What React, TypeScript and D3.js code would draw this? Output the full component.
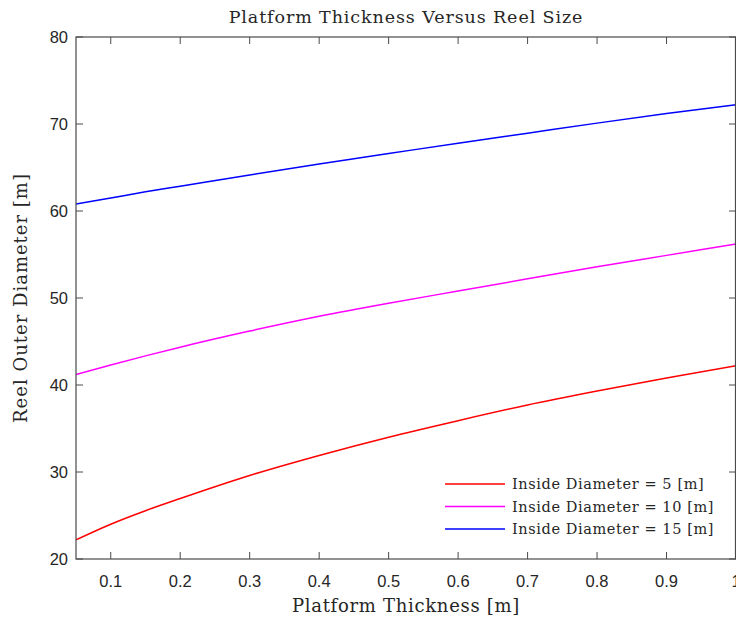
import React from "react";
import * as d3 from "d3";

const thickness = [0.05, 0.1, 0.15, 0.2, 0.3, 0.4, 0.5, 0.6, 0.7, 0.8, 0.9, 1.0];
const outer5 = [22.2, 24.0, 25.55, 26.95, 29.6, 31.9, 34.0, 35.9, 37.7, 39.3, 40.8, 42.2];
const outer10 = [41.2, 42.3, 43.35, 44.35, 46.2, 47.9, 49.4, 50.8, 52.2, 53.6, 54.9, 56.2];
const outer15 = [60.8, 61.5, 62.2, 62.85, 64.15, 65.4, 66.6, 67.8, 68.95, 70.1, 71.2, 72.2];
const seriesLabels = ["Inside Diameter = 5 [m]", "Inside Diameter = 10 [m]", "Inside Diameter = 15 [m]"];
const seriesColors = ["#ff0000", "#ff00ff", "#0000ff"];
const xTicks = [0.1, 0.2, 0.3, 0.4, 0.5, 0.6, 0.7, 0.8, 0.9, 1];
const yTicks = [20, 30, 40, 50, 60, 70, 80];

const W = 736, H = 622;
const L = 76, R = 736, T = 37, B = 559;

export default function App() {
  const x = d3.scaleLinear().domain([0.05, 1]).range([L, R]);
  const y = d3.scaleLinear().domain([20, 80]).range([B, T]);
  const series = [outer5, outer10, outer15];
  const line = d3
    .line<number>()
    .x((_, i) => x(thickness[i]))
    .y((d) => y(d))
    .curve(d3.curveMonotoneX);
  const axisColor = "#4a4a4a";
  const tickFont = "Liberation Sans, Arial, sans-serif";
  const serif = "DejaVu Serif, serif";
  const tl = 7;
  return (
    <svg width={W} height={H} style={{ position: "absolute", left: 0, top: 0, background: "#fff" }}>
      <rect x={0} y={0} width={W} height={H} fill="#fff" />
      <defs>
        <clipPath id="plot">
          <rect x={L} y={T} width={R - L} height={B - T} />
        </clipPath>
      </defs>
      {series.map((s, i) => (
        <path key={i} d={line(s) || ""} fill="none" stroke={seriesColors[i]} strokeWidth={1.5} clipPath="url(#plot)" />
      ))}
      <rect x={L} y={T} width={R - L - 0.5} height={B - T} fill="none" stroke={axisColor} strokeWidth={1.2} />
      {xTicks.map((t) => (
        <g key={"x" + t}>
          <line x1={x(t)} x2={x(t)} y1={B} y2={B - tl} stroke={axisColor} strokeWidth={1} />
          <line x1={x(t)} x2={x(t)} y1={T} y2={T + tl} stroke={axisColor} strokeWidth={1} />
          <text x={x(t)} y={587} textAnchor="middle" fontFamily={tickFont} fontSize={16.5} fill="#262626">
            {t}
          </text>
        </g>
      ))}
      {yTicks.map((t) => (
        <g key={"y" + t}>
          <line x1={L} x2={L + tl} y1={y(t)} y2={y(t)} stroke={axisColor} strokeWidth={1} />
          <line x1={R} x2={R - tl} y1={y(t)} y2={y(t)} stroke={axisColor} strokeWidth={1} />
          <text x={68} y={y(t) + 6} textAnchor="end" fontFamily={tickFont} fontSize={16.5} fill="#262626">
            {t}
          </text>
        </g>
      ))}
      <text x={(L + R) / 2} y={23} textAnchor="middle" fontFamily={serif} fontSize={17.5} letterSpacing={0.9} fill="#262626">
        Platform Thickness Versus Reel Size
      </text>
      <text x={(L + R) / 2} y={612} textAnchor="middle" fontFamily={serif} fontSize={18} letterSpacing={0.7} fill="#262626">
        Platform Thickness [m]
      </text>
      <text
        transform={`translate(27, ${(T + B) / 2}) rotate(-90)`}
        textAnchor="middle"
        fontFamily={serif}
        fontSize={18}
        letterSpacing={1}
        fill="#262626"
      >
        Reel Outer Diameter [m]
      </text>
      {seriesLabels.map((lab, i) => {
        const ly = 484 + i * 22.5;
        return (
          <g key={lab}>
            <line x1={445} x2={505} y1={ly} y2={ly} stroke={seriesColors[i]} strokeWidth={1.5} />
            <text x={512} y={ly + 5} fontFamily={serif} fontSize={14.5} letterSpacing={0.6} fill="#262626">
              {lab}
            </text>
          </g>
        );
      })}
    </svg>
  );
}
